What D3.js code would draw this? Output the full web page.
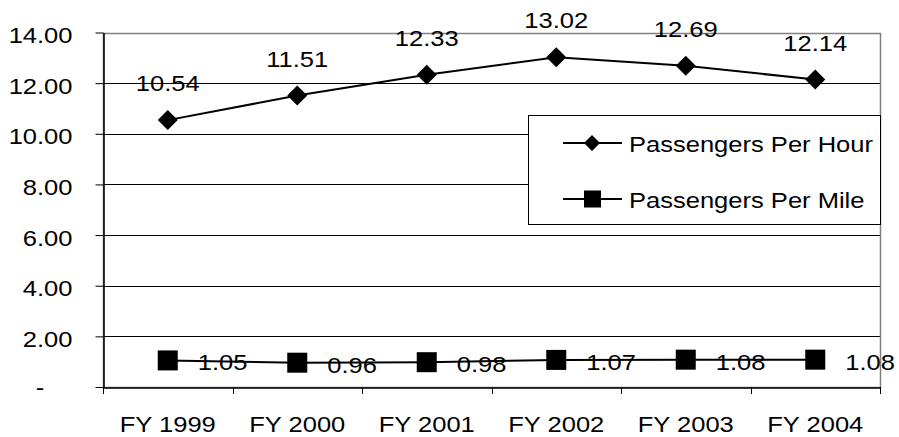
<!DOCTYPE html>
<html>
<head>
<meta charset="utf-8">
<script src="https://cdn.jsdelivr.net/npm/d3@7"></script>
<style>
  body { margin: 0; background: #fff; }
  text { font-family: "Liberation Sans", Arial, sans-serif; fill: #000; }
</style>
</head>
<body>
<div class="chart"></div>
<script>
// 数据
const years = ['FY 1999', 'FY 2000', 'FY 2001', 'FY 2002', 'FY 2003', 'FY 2004'];
const perHour = [10.54, 11.51, 12.33, 13.02, 12.69, 12.14];
const perMile = [1.05, 0.96, 0.98, 1.07, 1.08, 1.08];
const yTicks = [0, 2, 4, 6, 8, 10, 12, 14];
const seriesNames = ['Passengers Per Hour', 'Passengers Per Mile'];

const width = 899, height = 437;
const plot = {left: 103, right: 880, top: 32.5, bottom: 387};
const fontSize = '22px';
const stretch = 1.16; // 原图文字略宽

const svg = d3.select('.chart')
    .append('svg')
    .attr('width', width)
    .attr('height', height);

const x = d3.scaleBand().domain(years).range([plot.left, plot.right]);
const y = d3.scaleLinear().domain([0, 14]).range([plot.bottom, plot.top]);

// 网格线
svg.append('g')
    .selectAll('line')
    .data(yTicks.filter(d => d > 0 && d < 14))
    .enter()
    .append('line')
    .attr('x1', plot.left).attr('x2', plot.right)
    .attr('y1', d => Math.round(y(d)) + 0.5).attr('y2', d => Math.round(y(d)) + 0.5)
    .attr('stroke', '#000').attr('stroke-width', 1);

// 绘图区边框（灰色）
svg.append('rect')
    .attr('x', plot.left + 0.5).attr('y', Math.round(plot.top) + 0.5)
    .attr('width', plot.right - plot.left).attr('height', plot.bottom - Math.round(plot.top))
    .attr('fill', 'none').attr('stroke', '#808080').attr('stroke-width', 1.5);

// y 轴
const yAxis = svg.append('g')
    .attr('transform', `translate(${plot.left + 0.5},0)`)
    .call(d3.axisLeft(y).tickValues(yTicks).tickSize(8).tickSizeOuter(0)
        .tickFormat(d => d === 0 ? '' : d3.format('.2f')(d)));
yAxis.select('.domain').attr('stroke', '#000').attr('stroke-width', 1.5);
yAxis.selectAll('.tick line').attr('stroke', '#000');
yAxis.selectAll('.tick text')
    .attr('x', -31).attr('dy', 0).attr('y', 10)
    .style('font-size', fontSize)
    .style('font-family', '"Liberation Sans", Arial, sans-serif')
    .attr('fill', '#000');
// 0 显示为 "-"
svg.append('text')
    .attr('x', 40).attr('y', y(0) + 8)
    .attr('text-anchor', 'middle')
    .style('font-size', fontSize)
    .text('-');

// x 轴
const xAxis = svg.append('g')
    .attr('transform', `translate(0,${plot.bottom + 0.5})`)
    .call(d3.axisBottom(x).tickSize(0).tickSizeOuter(0));
xAxis.select('.domain').attr('stroke', '#000').attr('stroke-width', 1.5);
xAxis.selectAll('.tick text')
    .attr('dy', 0).attr('y', 44)
    .style('font-size', fontSize)
    .style('font-family', '"Liberation Sans", Arial, sans-serif')
    .attr('fill', '#000');
// 类别分隔刻度
svg.append('g')
    .selectAll('line')
    .data(d3.range(years.length + 1))
    .enter()
    .append('line')
    .attr('x1', i => Math.round(plot.left + i * x.step()) + 0.5)
    .attr('x2', i => Math.round(plot.left + i * x.step()) + 0.5)
    .attr('y1', plot.bottom).attr('y2', plot.bottom + 7)
    .attr('stroke', '#000');

const cx = d => x(d) + x.bandwidth() / 2;
const line = d3.line().x(d => cx(d[0])).y(d => y(d[1]));

// 折线
[perHour, perMile].forEach(vals => {
    svg.append('path')
        .datum(years.map((d, i) => [d, vals[i]]))
        .attr('d', line)
        .attr('fill', 'none')
        .attr('stroke', '#000')
        .attr('stroke-width', 2);
});

// 标记
const diamond = (px, py, r) => `M${px},${py - r}L${px + r},${py}L${px},${py + r}L${px - r},${py}Z`;
svg.append('g').selectAll('path')
    .data(years)
    .enter()
    .append('path')
    .attr('d', (d, i) => diamond(cx(d), y(perHour[i]), 10))
    .attr('fill', '#000');
svg.append('g').selectAll('rect')
    .data(years)
    .enter()
    .append('rect')
    .attr('x', d => cx(d) - 10)
    .attr('y', (d, i) => y(perMile[i]) - 10)
    .attr('width', 20).attr('height', 20)
    .attr('fill', '#000');

// 数据标签
svg.append('g').selectAll('text')
    .data(years)
    .enter()
    .append('text')
    .attr('x', d => cx(d))
    .attr('y', (d, i) => y(perHour[i]) - 29)
    .attr('text-anchor', 'middle')
    .style('font-size', fontSize)
    .text((d, i) => perHour[i].toFixed(2));
svg.append('g').selectAll('text')
    .data(years)
    .enter()
    .append('text')
    .attr('x', d => cx(d) + 30)
    .attr('y', (d, i) => y(perMile[i]) + 10)
    .style('font-size', fontSize)
    .text((d, i) => perMile[i].toFixed(2));

// 图例
const legend = svg.append('g');
legend.append('rect')
    .attr('x', 528.5).attr('y', 115.5)
    .attr('width', plot.right - 528).attr('height', 109)
    .attr('fill', '#fff').attr('stroke', '#000').attr('stroke-width', 1);
const rowsY = [143, 199];
seriesNames.forEach((name, i) => {
    const ly = rowsY[i];
    legend.append('line')
        .attr('x1', 563).attr('x2', 622)
        .attr('y1', ly).attr('y2', ly)
        .attr('stroke', '#000').attr('stroke-width', 2);
    if (i === 0) {
        legend.append('path').attr('d', diamond(592, ly, 8)).attr('fill', '#000');
    } else {
        legend.append('rect').attr('x', 584).attr('y', ly - 8.5)
            .attr('width', 17).attr('height', 17).attr('fill', '#000');
    }
    legend.append('text')
        .attr('x', 629).attr('y', ly + 9)
        .style('font-size', fontSize)
        .text(name);
});

// 横向拉伸文字，贴近原图字形宽度
svg.selectAll('text').each(function () {
    const len = this.getComputedTextLength();
    if (len > 0) {
        d3.select(this)
            .attr('textLength', len * stretch)
            .attr('lengthAdjust', 'spacingAndGlyphs');
    }
});
</script>
</body>
</html>
